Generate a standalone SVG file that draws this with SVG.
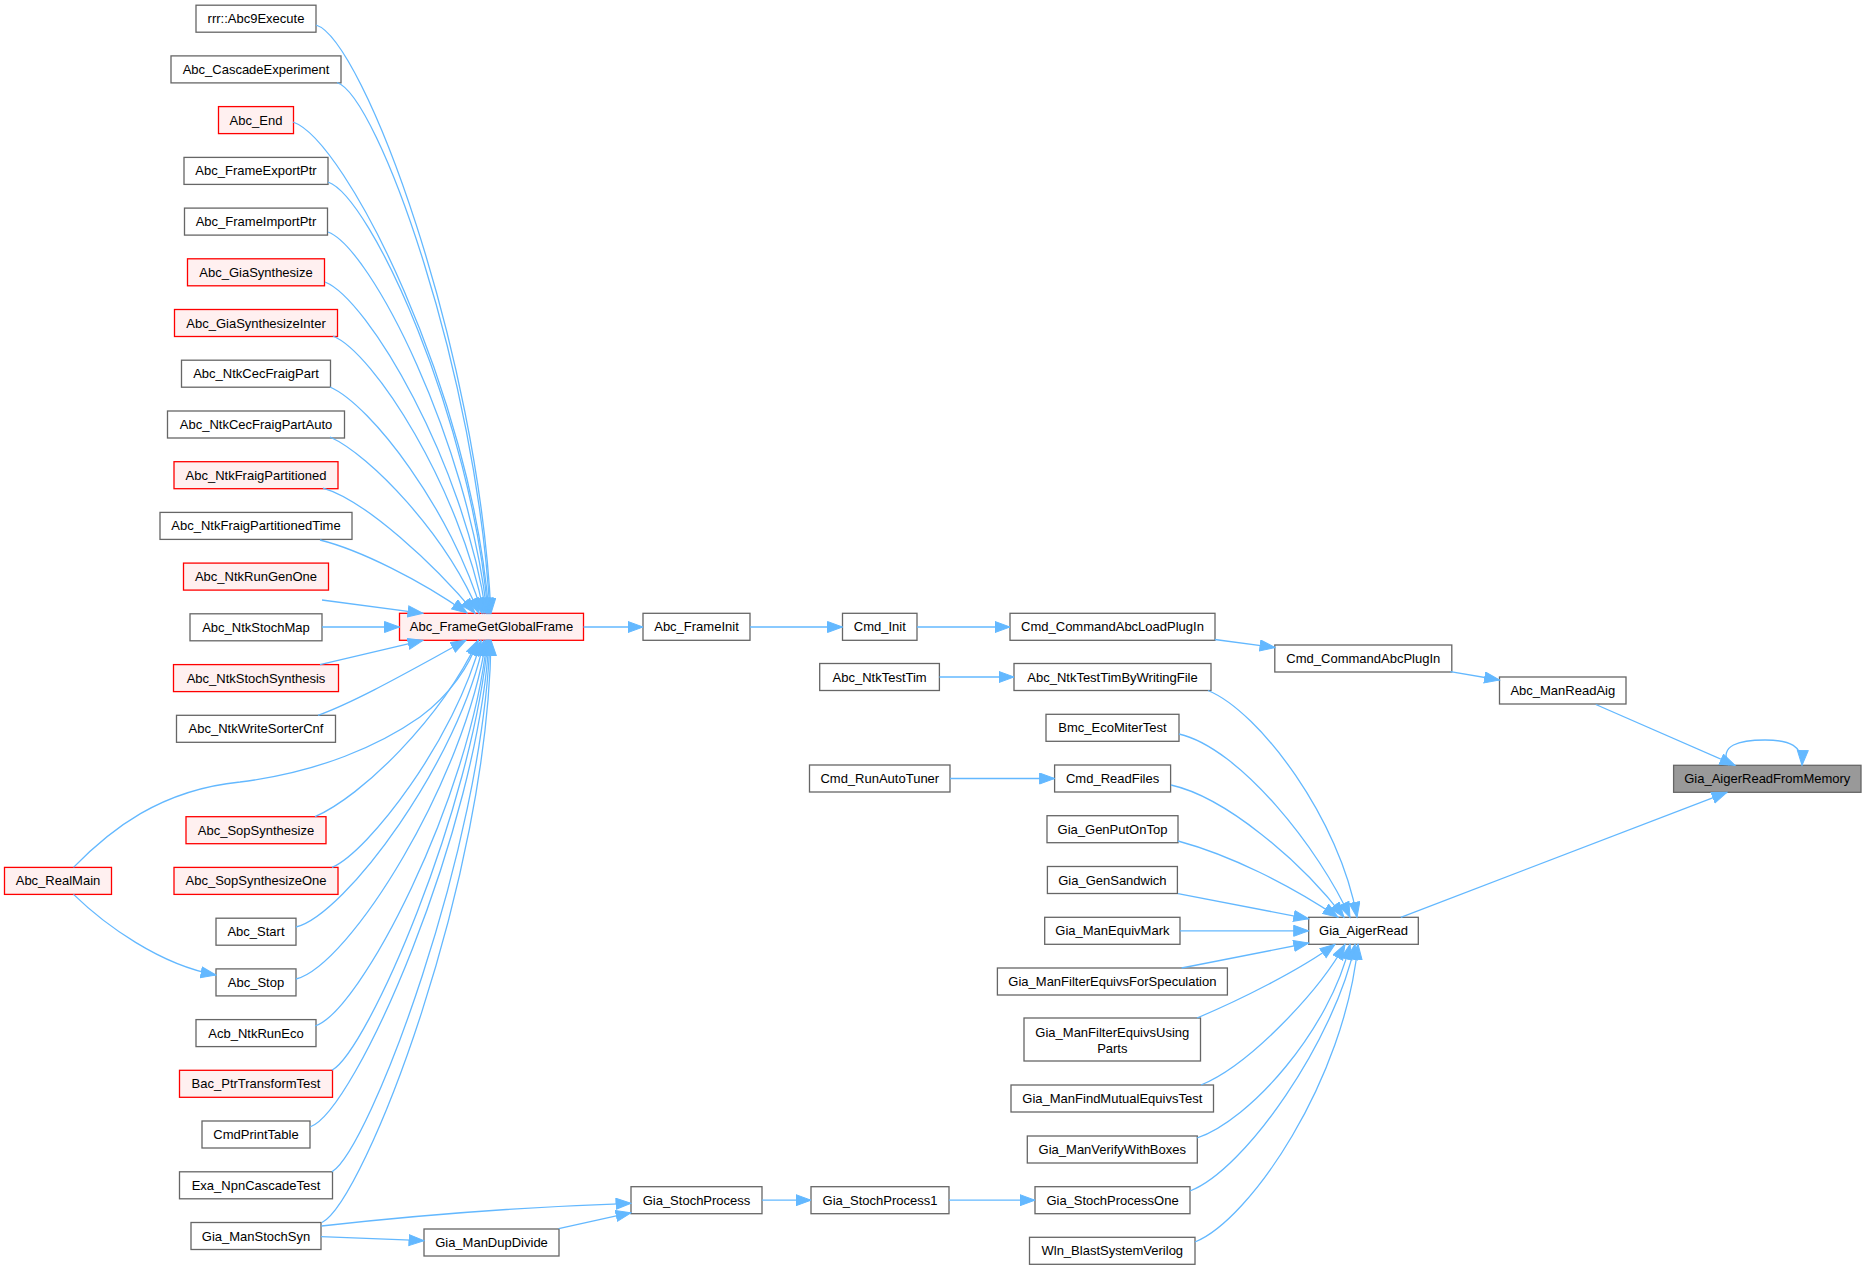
<svg xmlns="http://www.w3.org/2000/svg" width="1866" height="1269" viewBox="0 0 1866 1269">
<defs>
<style>
.n rect{fill:#ffffff;stroke:#666666;stroke-width:1.3}
.r rect{fill:#fff0f0;stroke:#ff0000;stroke-width:1.3}
.root rect{fill:#999999;stroke:#666666;stroke-width:1.3}
text{font-family:"Liberation Sans",Arial,Helvetica,sans-serif;font-size:13px;text-anchor:middle;fill:#000000}
#edges path{fill:none;stroke:#63b8ff;stroke-width:1.3;marker-end:url(#arr)}
</style>
<marker id="arr" markerUnits="userSpaceOnUse" markerWidth="17" markerHeight="13" refX="15.5" refY="6" orient="auto" viewBox="0 0 17 13">
<path d="M0.5,0.5 L15.5,6 L0.5,11.5 z" fill="#63b8ff" stroke="#63b8ff" stroke-width="1"/>
</marker>
</defs>
<rect x="0" y="0" width="1866" height="1269" fill="#ffffff"/>
<g id="nodes">
<g id="n_rrr" class="n"><rect x="196" y="5.2" width="120" height="27"/><text x="256" y="23.2">rrr::Abc9Execute</text></g>
<g id="n_cascade" class="n"><rect x="171" y="55.9" width="170" height="27"/><text x="256" y="73.9">Abc_CascadeExperiment</text></g>
<g id="n_end" class="r"><rect x="218.5" y="106.6" width="75" height="27"/><text x="256" y="124.6">Abc_End</text></g>
<g id="n_export" class="n"><rect x="184" y="157.4" width="144" height="27"/><text x="256" y="175.4">Abc_FrameExportPtr</text></g>
<g id="n_import" class="n"><rect x="184.5" y="208.1" width="143" height="27"/><text x="256" y="226.1">Abc_FrameImportPtr</text></g>
<g id="n_giasynth" class="r"><rect x="187.5" y="258.8" width="137" height="27"/><text x="256" y="276.8">Abc_GiaSynthesize</text></g>
<g id="n_giasynthinter" class="r"><rect x="174.5" y="309.5" width="163" height="27"/><text x="256" y="327.5">Abc_GiaSynthesizeInter</text></g>
<g id="n_cecfraigpart" class="n"><rect x="181.5" y="360.2" width="149" height="27"/><text x="256" y="378.2">Abc_NtkCecFraigPart</text></g>
<g id="n_cecfraigpartauto" class="n"><rect x="167.5" y="411" width="177" height="27"/><text x="256" y="429">Abc_NtkCecFraigPartAuto</text></g>
<g id="n_fraigpart" class="r"><rect x="174" y="461.7" width="164" height="27"/><text x="256" y="479.7">Abc_NtkFraigPartitioned</text></g>
<g id="n_fraigparttime" class="n"><rect x="160" y="512.4" width="192" height="27"/><text x="256" y="530.4">Abc_NtkFraigPartitionedTime</text></g>
<g id="n_rungenone" class="r"><rect x="183.5" y="563.1" width="145" height="27"/><text x="256" y="581.1">Abc_NtkRunGenOne</text></g>
<g id="n_stochmap" class="n"><rect x="190" y="613.8" width="132" height="27"/><text x="256" y="631.8">Abc_NtkStochMap</text></g>
<g id="n_stochsynth" class="r"><rect x="173.5" y="664.6" width="165" height="27"/><text x="256" y="682.6">Abc_NtkStochSynthesis</text></g>
<g id="n_writesorter" class="n"><rect x="176.5" y="715.3" width="159" height="27"/><text x="256" y="733.3">Abc_NtkWriteSorterCnf</text></g>
<g id="n_sopsynth" class="r"><rect x="186" y="816.7" width="140" height="27"/><text x="256" y="834.7">Abc_SopSynthesize</text></g>
<g id="n_sopsynthone" class="r"><rect x="174" y="867.4" width="164" height="27"/><text x="256" y="885.4">Abc_SopSynthesizeOne</text></g>
<g id="n_start" class="n"><rect x="216" y="918.2" width="80" height="27"/><text x="256" y="936.2">Abc_Start</text></g>
<g id="n_stop" class="n"><rect x="216" y="968.9" width="80" height="27"/><text x="256" y="986.9">Abc_Stop</text></g>
<g id="n_acb" class="n"><rect x="196" y="1019.6" width="120" height="27"/><text x="256" y="1037.6">Acb_NtkRunEco</text></g>
<g id="n_bac" class="r"><rect x="179.5" y="1070.3" width="153" height="27"/><text x="256" y="1088.3">Bac_PtrTransformTest</text></g>
<g id="n_cmdprinttable" class="n"><rect x="202" y="1121" width="108" height="27"/><text x="256" y="1139">CmdPrintTable</text></g>
<g id="n_exa" class="n"><rect x="179.5" y="1171.8" width="153" height="27"/><text x="256" y="1189.8">Exa_NpnCascadeTest</text></g>
<g id="n_manstochsyn" class="n"><rect x="191" y="1222.5" width="130" height="27"/><text x="256" y="1240.5">Gia_ManStochSyn</text></g>
<g id="n_realmain" class="r"><rect x="4.5" y="867.4" width="107" height="27"/><text x="58" y="885.4">Abc_RealMain</text></g>
<g id="n_getglobal" class="r"><rect x="399.5" y="613.3" width="184" height="27"/><text x="491.5" y="631.3">Abc_FrameGetGlobalFrame</text></g>
<g id="n_dupdivide" class="n"><rect x="424" y="1229" width="135" height="27"/><text x="491.5" y="1247">Gia_ManDupDivide</text></g>
<g id="n_frameinit" class="n"><rect x="643" y="613.3" width="107" height="27"/><text x="696.5" y="631.3">Abc_FrameInit</text></g>
<g id="n_stochprocess" class="n"><rect x="631" y="1186.7" width="131" height="27"/><text x="696.5" y="1204.7">Gia_StochProcess</text></g>
<g id="n_cmdinit" class="n"><rect x="842.5" y="613.3" width="74.5" height="27"/><text x="879.8" y="631.3">Cmd_Init</text></g>
<g id="n_testtim" class="n"><rect x="819.7" y="663.5" width="119.7" height="27"/><text x="879.6" y="681.5">Abc_NtkTestTim</text></g>
<g id="n_autotuner" class="n"><rect x="809.5" y="765" width="140.5" height="27"/><text x="879.8" y="783">Cmd_RunAutoTuner</text></g>
<g id="n_stochprocess1" class="n"><rect x="811" y="1186.7" width="138" height="27"/><text x="880" y="1204.7">Gia_StochProcess1</text></g>
<g id="n_loadplugin" class="n"><rect x="1010" y="613.3" width="205" height="27"/><text x="1112.5" y="631.3">Cmd_CommandAbcLoadPlugIn</text></g>
<g id="n_testtimwf" class="n"><rect x="1014" y="663.5" width="197" height="27"/><text x="1112.5" y="681.5">Abc_NtkTestTimByWritingFile</text></g>
<g id="n_bmc" class="n"><rect x="1046" y="714.3" width="133" height="27"/><text x="1112.5" y="732.3">Bmc_EcoMiterTest</text></g>
<g id="n_readfiles" class="n"><rect x="1054.6" y="765" width="116" height="27"/><text x="1112.6" y="783">Cmd_ReadFiles</text></g>
<g id="n_putontop" class="n"><rect x="1047" y="815.7" width="131" height="27"/><text x="1112.5" y="833.7">Gia_GenPutOnTop</text></g>
<g id="n_sandwich" class="n"><rect x="1047.4" y="866.5" width="130" height="27"/><text x="1112.4" y="884.5">Gia_GenSandwich</text></g>
<g id="n_equivmark" class="n"><rect x="1044.7" y="917.3" width="135.3" height="27"/><text x="1112.4" y="935.3">Gia_ManEquivMark</text></g>
<g id="n_forspec" class="n"><rect x="997.4" y="968" width="230" height="27"/><text x="1112.4" y="986">Gia_ManFilterEquivsForSpeculation</text></g>
<g id="n_usingparts" class="n"><rect x="1024" y="1018" width="176.5" height="43"/><text x="1112.3" y="1036.6">Gia_ManFilterEquivsUsing</text><text x="1112.3" y="1052.6">Parts</text></g>
<g id="n_findmutual" class="n"><rect x="1011" y="1085" width="202.5" height="27"/><text x="1112.3" y="1103">Gia_ManFindMutualEquivsTest</text></g>
<g id="n_verify" class="n"><rect x="1027.3" y="1136" width="170" height="27"/><text x="1112.3" y="1154">Gia_ManVerifyWithBoxes</text></g>
<g id="n_stochprocessone" class="n"><rect x="1035" y="1186.7" width="155" height="27"/><text x="1112.5" y="1204.7">Gia_StochProcessOne</text></g>
<g id="n_wln" class="n"><rect x="1029.5" y="1237.3" width="165.5" height="27"/><text x="1112.3" y="1255.3">Wln_BlastSystemVerilog</text></g>
<g id="n_abcplugin" class="n"><rect x="1274.8" y="645" width="177" height="27"/><text x="1363.3" y="663">Cmd_CommandAbcPlugIn</text></g>
<g id="n_aigerread" class="n"><rect x="1308.7" y="917.3" width="109.6" height="27"/><text x="1363.5" y="935.3">Gia_AigerRead</text></g>
<g id="n_manreadaig" class="n"><rect x="1499.5" y="677" width="126.5" height="27"/><text x="1562.8" y="695">Abc_ManReadAig</text></g>
<g id="n_root" class="root"><rect x="1673.6" y="765.3" width="187.4" height="27"/><text x="1767.3" y="783.3">Gia_AigerReadFromMemory</text></g>
</g>
<g id="edges">
<path d="M316,25 C363,39 478,348 491,613.3"/>
<path d="M337,82.5 C378,96 477,374 490,613.3"/>
<path d="M293,122 C346,140 471.5,392 489,613.3"/>
<path d="M328,182 C371,197 471.7,419 488,613.3"/>
<path d="M328,232 C371,248 468.6,442 487,613.3"/>
<path d="M325,282 C368,299 464.6,464 486,613.3"/>
<path d="M333,336 C374,353 460,488 484,613.3"/>
<path d="M330,387 C371,405 452,511 482,613.3"/>
<path d="M330,437 C370,455 446,534 479,613.3"/>
<path d="M323,488 C365,500 435,565 475,613.3"/>
<path d="M320,540 C360,550 420,580 467,613"/>
<path d="M322,600 L423,613.3"/>
<path d="M322,627 L399.5,627"/>
<path d="M320,664.6 L423,640.3"/>
<path d="M318,715.3 C360,700 420,665 466,640.3"/>
<path d="M73.5,867.4 C110,830 160,790 240,782 C320,772 380,745 420,717 C450,695 470,665 478,640.3"/>
<path d="M315,816.7 C362,796 440,720 478,640.3"/>
<path d="M332,867.4 C368,852 455,740 481,640.3"/>
<path d="M296,927 C345,915 460,760 484,640.3"/>
<path d="M296,979 C350,965 465,780 486,640.3"/>
<path d="M315,1026 C360,1012 470,800 487,640.3"/>
<path d="M332,1070.3 C368,1050 472,810 488,640.3"/>
<path d="M310,1127 C355,1112 478,830 489,640.3"/>
<path d="M332,1171.8 C370,1148 482,850 490,640.3"/>
<path d="M322,1222.5 C365,1200 488,880 491,640.3"/>
<path d="M73.5,894.4 C105,925 160,965 216,975"/>
<path d="M583.5,627 L643,627"/>
<path d="M750,627 L842.5,627"/>
<path d="M917,627 L1010,627"/>
<path d="M1214.8,639.5 L1275,647.5"/>
<path d="M1450.4,671.7 L1499.5,680"/>
<path d="M1595.8,704.5 L1735,765.3"/>
<path d="M1729,765.3 C1718,745 1740,740 1765,740 C1790,740 1803,746 1802,765.3"/>
<path d="M1400.8,917.3 L1727,792.3"/>
<path d="M939.4,677 L1014,677"/>
<path d="M950,778.5 L1054.6,778.5"/>
<path d="M762,1200.2 L811,1200.2"/>
<path d="M949,1200.2 L1035,1200.2"/>
<path d="M321,1236.7 L424,1240.7"/>
<path d="M321.5,1226 C420,1215 520,1207 631,1203.3"/>
<path d="M558.7,1228.7 L631,1212.7"/>
<path d="M1208,690.5 C1260,712 1340,820 1357,917.3"/>
<path d="M1179,734 C1240,748 1320,850 1350,917.3"/>
<path d="M1171,785 C1225,797 1300,860 1344,917.3"/>
<path d="M1178,841 C1230,855 1290,885 1338,917.3"/>
<path d="M1178,893.6 L1308.7,918.8"/>
<path d="M1180,930.8 L1308.7,930.8"/>
<path d="M1181.6,968 L1308.7,943"/>
<path d="M1197,1018 C1240,1000 1300,970 1335,944.3"/>
<path d="M1201,1085 C1250,1065 1320,990 1345,944.3"/>
<path d="M1197,1138 C1250,1120 1330,1030 1350,944.3"/>
<path d="M1190,1191 C1245,1170 1335,1040 1355,944.3"/>
<path d="M1195,1242 C1250,1220 1345,1080 1358,944.3"/>
</g>
</svg>
